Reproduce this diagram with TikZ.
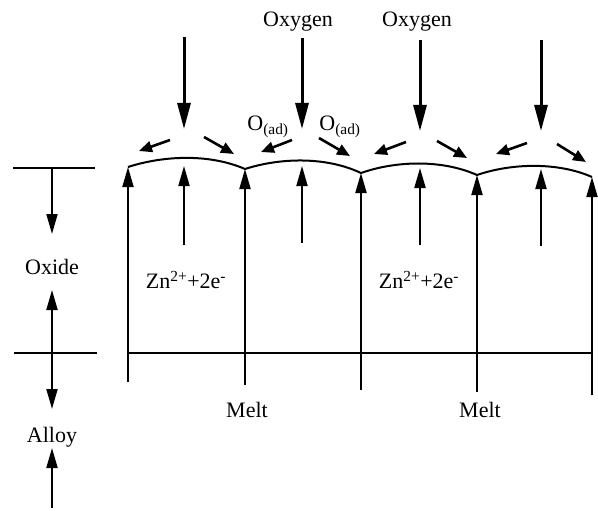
\documentclass[tikz,border=0pt]{standalone}
\usepackage{fontspec}
\setmainfont{Liberation Serif}
\usetikzlibrary{arrows.meta}
\begin{document}
\begin{tikzpicture}[x=1pt,y=-1pt,
  font=\fontsize{22}{26}\selectfont,
  bigdown/.style={line width=3pt,-{Triangle[length=26pt,width=13pt]}},
  upar/.style={line width=2pt,-{Triangle[length=20pt,width=11pt]}},
  twoar/.style={line width=2pt,{Triangle[length=20pt,width=11pt]}-{Triangle[length=20pt,width=11pt]}},
  diag/.style={line width=2.6pt,-{Triangle[length=13pt,width=11pt]}},
  plain/.style={line width=2pt},
  lbl/.style={inner sep=0pt}]
\useasboundingbox (0,0) rectangle (598,511);
% surface cusps and peaks
\coordinate (s0) at (128,167);
\coordinate (s1) at (245,169);
\coordinate (s2) at (361,173);
\coordinate (s3) at (477,175);
\coordinate (s4) at (592,177);
\draw[plain] (s0) .. controls (162,156) and (208,153) .. (s1)
             .. controls (279,158) and (325,156) .. (s2)
             .. controls (395,161) and (441,159) .. (s3)
             .. controls (512,163) and (558,162) .. (s4);
% oxygen labels
\node[lbl] (ox1) at (298,22) {Oxygen};
\node[lbl] (ox2) at (417,22) {Oxygen};
% big down arrows
\coordinate (d1a) at (184,37);  \coordinate (d1b) at (184,129);
\coordinate (d2a) at (302,38);  \coordinate (d2b) at (302,129);
\coordinate (d3a) at (420,40);  \coordinate (d3b) at (420,131);
\coordinate (d4a) at (541,40);  \coordinate (d4b) at (541,131);
\draw[bigdown] (d1a) -- (d1b);
\draw[bigdown] (d2a) -- (d2b);
\draw[bigdown] (d3a) -- (d3b);
\draw[bigdown] (d4a) -- (d4b);
% adsorbed oxygen diagonal arrows
\coordinate (l1a) at (170,140); \coordinate (l1b) at (139,151);
\coordinate (r1a) at (204,137); \coordinate (r1b) at (234,154);
\coordinate (l2a) at (292,140); \coordinate (l2b) at (261,152);
\coordinate (r2a) at (319,138); \coordinate (r2b) at (350,156);
\coordinate (l3a) at (406,142); \coordinate (l3b) at (374,154);
\coordinate (r3a) at (437,141); \coordinate (r3b) at (467,158);
\coordinate (l4a) at (527,143); \coordinate (l4b) at (496,154);
\coordinate (r4a) at (557,144); \coordinate (r4b) at (586,162);
\foreach \p in {l1,r1,l2,r2,l3,r3,l4,r4}{\draw[diag] (\p a) -- (\p b);}
\node[lbl] (oad1) at (268,127) {O\textsubscript{(ad)}};
\node[lbl] (oad2) at (340,127) {O\textsubscript{(ad)}};
% long up arrows
\coordinate (u0) at (128,382);
\coordinate (u1) at (245,385);
\coordinate (u2) at (361,390);
\coordinate (u3) at (477,392);
\coordinate (u4) at (592,395);
\draw[upar] (u0) -- (s0);
\draw[upar] (u1) -- (s1);
\draw[upar] (u2) -- (s2);
\draw[upar] (u3) -- (s3);
\draw[upar] (u4) -- (s4);
% short up arrows
\coordinate (t1a) at (184,245); \coordinate (t1b) at (184,166);
\coordinate (t2a) at (302,243); \coordinate (t2b) at (302,166);
\coordinate (t3a) at (420,245); \coordinate (t3b) at (420,168);
\coordinate (t4a) at (541,246); \coordinate (t4b) at (541,169);
\foreach \p in {t1,t2,t3,t4}{\draw[upar] (\p a) -- (\p b);}
% interface line
\coordinate (h0) at (128,353); \coordinate (h1) at (592,353);
\draw[plain] (h0) -- (h1);
% labels
\node[lbl] (zn1) at (186,280) {Zn\textsuperscript{2+}+2e\textsuperscript{-}};
\node[lbl] (zn2) at (419,280) {Zn\textsuperscript{2+}+2e\textsuperscript{-}};
\node[lbl] (melt1) at (247,410) {Melt};
\node[lbl] (melt2) at (480,410) {Melt};
% left scale
\coordinate (lt0) at (13,168); \coordinate (lt1) at (95,168);
\coordinate (lb0) at (14,353); \coordinate (lb1) at (97,353);
\draw[plain] (lt0) -- (lt1);
\draw[plain] (lb0) -- (lb1);
\node[lbl] (oxide) at (52,267) {Oxide};
\node[lbl] (alloy) at (52,437) {Alloy};
\coordinate (a1) at (52,168); \coordinate (a1b) at (52,234);
\draw[upar] (a1) -- (a1b);
\coordinate (a2t) at (52,290); \coordinate (a2b) at (52,409);
\draw[twoar] (a2t) -- (a2b);
\coordinate (a3a) at (52,508); \coordinate (a3b) at (52,448);
\draw[upar] (a3a) -- (a3b);
\end{tikzpicture}
\end{document}
